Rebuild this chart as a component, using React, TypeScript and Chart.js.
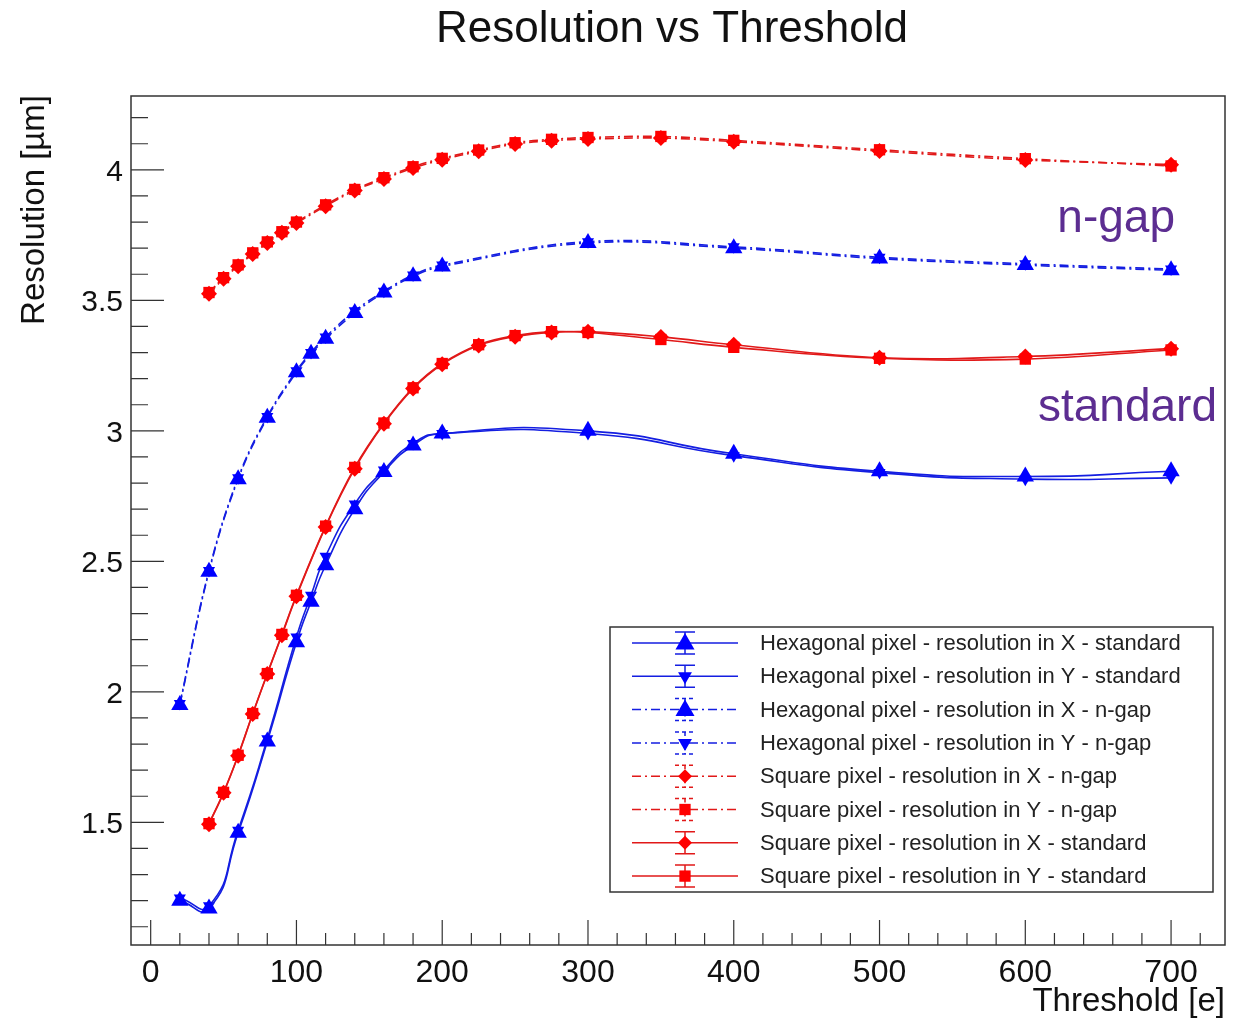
import React, { useEffect, useRef } from 'react';
import { Chart, registerables } from 'chart.js';

Chart.register(...registerables);

// ---------------- data ----------------
const hexThresholds = [20, 40, 60, 80, 100, 110, 120, 140, 160, 180, 200, 300, 400, 500, 600, 700];
const squareThresholds = [40, 50, 60, 70, 80, 90, 100, 120, 140, 160, 180, 200, 225, 250, 275, 300, 350, 400, 500, 600, 700];

const hexXStandard = [1.2, 1.17, 1.46, 1.81, 2.19, 2.345, 2.485, 2.7, 2.842, 2.944, 2.99, 3.0, 2.912, 2.845, 2.825, 2.845];
const hexYStandard = [1.21, 1.18, 1.47, 1.82, 2.21, 2.37, 2.52, 2.72, 2.85, 2.952, 2.99, 2.99, 2.905, 2.84, 2.815, 2.82];
const hexXNgap = [1.95, 2.46, 2.815, 3.05, 3.225, 3.295, 3.353, 3.452, 3.53, 3.592, 3.63, 3.72, 3.7, 3.66, 3.635, 3.615];
const hexYNgap = [1.955, 2.465, 2.82, 3.055, 3.23, 3.3, 3.36, 3.46, 3.535, 3.597, 3.635, 3.725, 3.705, 3.665, 3.64, 3.62];

const squareXNgap = [3.525, 3.583, 3.631, 3.678, 3.72, 3.759, 3.796, 3.861, 3.921, 3.965, 4.007, 4.039, 4.071, 4.099, 4.112, 4.118, 4.122, 4.108, 4.072, 4.038, 4.02];
const squareYNgap = [3.53, 3.587, 3.636, 3.682, 3.724, 3.763, 3.8, 3.866, 3.925, 3.97, 4.012, 4.044, 4.076, 4.104, 4.117, 4.124, 4.128, 4.113, 4.077, 4.043, 4.015];
const squareXStandard = [1.493, 1.613, 1.755, 1.915, 2.068, 2.217, 2.366, 2.632, 2.855, 3.027, 3.162, 3.255, 3.327, 3.361, 3.377, 3.38, 3.36, 3.33, 3.28, 3.285, 3.315];
const squareYStandard = [1.495, 1.615, 1.757, 1.917, 2.07, 2.22, 2.37, 2.635, 2.86, 3.03, 3.165, 3.258, 3.33, 3.365, 3.38, 3.377, 3.35, 3.32, 3.278, 3.275, 3.31];

const xTickValues = [0, 100, 200, 300, 400, 500, 600, 700];
const xTickLabels = ['0', '100', '200', '300', '400', '500', '600', '700'];
const yTickValues = [1.5, 2, 2.5, 3, 3.5, 4];
const yTickLabels = ['1.5', '2', '2.5', '3', '3.5', '4'];

const seriesLabels = [
  'Hexagonal pixel - resolution in X - standard',
  'Hexagonal pixel - resolution in Y - standard',
  'Hexagonal pixel - resolution in X - n-gap',
  'Hexagonal pixel - resolution in Y - n-gap',
  'Square pixel - resolution in X - n-gap',
  'Square pixel - resolution in Y - n-gap',
  'Square pixel - resolution in X - standard',
  'Square pixel - resolution in Y - standard',
];

const titleText = 'Resolution vs Threshold';
const xTitle = 'Threshold [e]';
const yTitle = 'Resolution [µm]';
const noteNgap = 'n-gap';
const noteStandard = 'standard';

// ---------------- styles ----------------
const FONT = '"Liberation Sans", Arial, Helvetica, sans-serif';
const BLUE = 'rgb(0,0,255)';
const BLUE_LINE = 'rgb(20,30,225)';
const RED = 'rgb(255,0,0)';
const RED_LINE = 'rgb(225,25,25)';
const PURPLE = 'rgb(92,45,145)';
const DASHDOT = [9, 4, 2, 4];

const X_MIN = -13.5;
const X_MAX = 737;
const Y_MIN = 1.03;
const Y_MAX = 4.283;

type Spec = {
  xs: number[];
  ys: number[];
  marker: string;
  rot: number;
  radius: number;
  color: string;
  line: string;
  dashed: boolean;
  tension: number;
};

const specs: Spec[] = [
  { xs: hexThresholds, ys: hexXStandard, marker: 'triangle', rot: 0, radius: 10, color: BLUE, line: BLUE_LINE, dashed: false, tension: 0.55 },
  { xs: hexThresholds, ys: hexYStandard, marker: 'triangle', rot: 180, radius: 7, color: BLUE, line: BLUE_LINE, dashed: false, tension: 0.55 },
  { xs: hexThresholds, ys: hexXNgap, marker: 'triangle', rot: 0, radius: 10, color: BLUE, line: BLUE_LINE, dashed: true, tension: 0.4 },
  { xs: hexThresholds, ys: hexYNgap, marker: 'triangle', rot: 180, radius: 7, color: BLUE, line: BLUE_LINE, dashed: true, tension: 0.4 },
  { xs: squareThresholds, ys: squareXNgap, marker: 'rectRot', rot: 0, radius: 8, color: RED, line: RED_LINE, dashed: true, tension: 0.35 },
  { xs: squareThresholds, ys: squareYNgap, marker: 'rect', rot: 0, radius: 8, color: RED, line: RED_LINE, dashed: true, tension: 0.35 },
  { xs: squareThresholds, ys: squareXStandard, marker: 'rectRot', rot: 0, radius: 8, color: RED, line: RED_LINE, dashed: false, tension: 0.4 },
  { xs: squareThresholds, ys: squareYStandard, marker: 'rect', rot: 0, radius: 8, color: RED, line: RED_LINE, dashed: false, tension: 0.4 },
];

function drawMarker(ctx: CanvasRenderingContext2D, marker: string, rot: number, x: number, y: number, r: number, color: string) {
  ctx.save();
  ctx.fillStyle = color;
  ctx.setLineDash([]);
  ctx.beginPath();
  if (marker === 'triangle') {
    let a = (rot * Math.PI) / 180;
    for (let k = 0; k < 3; k++) {
      const px = x + Math.sin(a) * r;
      const py = y - Math.cos(a) * r;
      if (k === 0) ctx.moveTo(px, py);
      else ctx.lineTo(px, py);
      a += (2 * Math.PI) / 3;
    }
  } else if (marker === 'rect') {
    const s = r * Math.SQRT1_2;
    ctx.rect(x - s, y - s, 2 * s, 2 * s);
  } else {
    ctx.moveTo(x, y - r);
    ctx.lineTo(x + r, y);
    ctx.lineTo(x, y + r);
    ctx.lineTo(x - r, y);
  }
  ctx.closePath();
  ctx.fill();
  ctx.restore();
}

const rootPlugin = {
  id: 'rootStyle',
  afterDatasetsDraw(chart: any) {
    const ctx: CanvasRenderingContext2D = chart.ctx;
    const a = chart.chartArea;
    const xs = chart.scales.x;
    const ys = chart.scales.y;
    ctx.save();

    // frame
    ctx.strokeStyle = '#333';
    ctx.lineWidth = 1.5;
    ctx.setLineDash([]);
    ctx.strokeRect(a.left, a.top, a.right - a.left, a.bottom - a.top);

    // y ticks (inside)
    ctx.lineWidth = 1.2;
    ctx.beginPath();
    for (let v = 1.1; v <= Y_MAX + 1e-9; v += 0.1) {
      const vv = Math.round(v * 10) / 10;
      const py = ys.getPixelForValue(vv);
      const major = Math.abs(vv * 2 - Math.round(vv * 2)) < 1e-6;
      ctx.moveTo(a.left, py);
      ctx.lineTo(a.left + (major ? 33 : 17), py);
    }
    // x ticks (inside)
    for (let v = 0; v <= X_MAX; v += 20) {
      const px = xs.getPixelForValue(v);
      const major = v % 100 === 0;
      ctx.moveTo(px, a.bottom);
      ctx.lineTo(px, a.bottom - (major ? 25 : 12));
    }
    ctx.stroke();

    // tick labels
    ctx.fillStyle = '#111';
    ctx.font = `30px ${FONT}`;
    ctx.textAlign = 'right';
    ctx.textBaseline = 'alphabetic';
    yTickValues.forEach((v, i) => {
      ctx.fillText(yTickLabels[i], a.left - 8, ys.getPixelForValue(v) + 11);
    });
    ctx.font = `32px ${FONT}`;
    ctx.textAlign = 'center';
    xTickValues.forEach((v, i) => {
      ctx.fillText(xTickLabels[i], xs.getPixelForValue(v), a.bottom + 37);
    });

    // axis titles
    ctx.font = `33px ${FONT}`;
    ctx.textAlign = 'right';
    ctx.fillText(xTitle, a.right, 1011);
    ctx.save();
    ctx.translate(44, 95);
    ctx.rotate(-Math.PI / 2);
    ctx.textAlign = 'right';
    ctx.fillText(yTitle, 0, 0);
    ctx.restore();

    // title
    ctx.font = `44px ${FONT}`;
    ctx.textAlign = 'center';
    ctx.fillText(titleText, 672, 42);

    // notes
    ctx.fillStyle = PURPLE;
    ctx.font = `46px ${FONT}`;
    ctx.textAlign = 'right';
    ctx.fillText(noteNgap, 1175, 232);
    ctx.fillText(noteStandard, 1217, 421);

    // legend
    const lx = 610, ly = 627, lw = 603, lh = 265;
    ctx.fillStyle = '#fff';
    ctx.fillRect(lx, ly, lw, lh);
    ctx.strokeStyle = '#333';
    ctx.lineWidth = 1.5;
    ctx.setLineDash([]);
    ctx.strokeRect(lx, ly, lw, lh);
    ctx.font = `22px ${FONT}`;
    ctx.textAlign = 'left';
    ctx.textBaseline = 'middle';
    specs.forEach((s, i) => {
      const cy = 643 + i * 33.3;
      const mx = 685;
      ctx.strokeStyle = s.line;
      ctx.lineWidth = 1.5;
      ctx.setLineDash(s.dashed ? DASHDOT : []);
      ctx.beginPath();
      ctx.moveTo(632, cy);
      ctx.lineTo(738, cy);
      ctx.stroke();
      // error bar
      ctx.setLineDash(s.dashed ? [4, 3] : []);
      ctx.beginPath();
      ctx.moveTo(mx, cy - 11);
      ctx.lineTo(mx, cy + 11);
      ctx.moveTo(mx - 10, cy - 11);
      ctx.lineTo(mx + 10, cy - 11);
      ctx.moveTo(mx - 10, cy + 11);
      ctx.lineTo(mx + 10, cy + 11);
      ctx.stroke();
      const r = s.marker === 'triangle' ? (s.rot ? 8 : 11) : s.marker === 'rect' ? 8 : 7;
      drawMarker(ctx, s.marker, s.rot, mx, cy + (s.marker === 'triangle' && !s.rot ? 1 : 0), r, s.color);
      ctx.fillStyle = '#222';
      ctx.fillText(seriesLabels[i], 760, cy + 1);
    });

    ctx.restore();
  },
};

export default function App() {
  const canvasRef = useRef<HTMLCanvasElement | null>(null);

  useEffect(() => {
    const canvas = canvasRef.current;
    if (!canvas) return;
    const datasets = specs.map((s, i) => ({
      label: seriesLabels[i],
      data: s.xs.map((x, k) => ({ x, y: s.ys[k] })),
      borderColor: s.line,
      backgroundColor: s.color,
      borderWidth: 1.6,
      borderDash: s.dashed ? DASHDOT : [],
      pointStyle: s.marker,
      pointRotation: s.rot,
      pointRadius: s.radius,
      pointBorderWidth: 0,
      pointBackgroundColor: s.color,
      pointBorderColor: s.color,
      tension: s.tension,
      fill: false,
    }));

    const chart = new Chart(canvas, {
      type: 'line',
      data: { datasets },
      options: {
        animation: false,
        responsive: false,
        devicePixelRatio: 1,
        layout: { padding: { left: 131, right: 18, top: 96, bottom: 80 } },
        plugins: {
          legend: { display: false },
          title: { display: false },
          tooltip: { enabled: false },
        },
        scales: {
          x: { type: 'linear', min: X_MIN, max: X_MAX, display: false },
          y: { type: 'linear', min: Y_MIN, max: Y_MAX, display: false },
        },
      },
      plugins: [rootPlugin],
    } as any);

    return () => chart.destroy();
  }, []);

  return (
    <div style={{ position: 'absolute', left: 0, top: 0, width: 1243, height: 1025, background: '#fff' }}>
      <canvas ref={canvasRef} width={1243} height={1025} style={{ display: 'block' }} />
    </div>
  );
}
